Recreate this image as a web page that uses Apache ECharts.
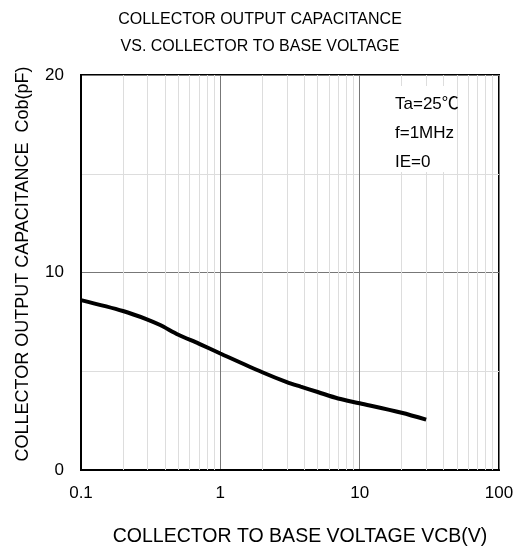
<!DOCTYPE html>
<html>
<head>
<meta charset="utf-8">
<script src="https://cdn.jsdelivr.net/npm/echarts@6/dist/echarts.min.js"></script>
<style>
  html, body { margin: 0; padding: 0; background: #fff; }
  #chart { width: 520px; height: 546px; }
</style>
</head>
<body>
<div id="chart"></div>
<script>
// 数据
var vcb = [0.1, 0.2, 0.3, 0.37, 0.5, 0.7, 1, 2, 3, 3.77, 5, 7, 10, 20, 30];
var cob = [8.6, 8.05, 7.62, 7.34, 6.85, 6.4, 5.9, 4.95, 4.45, 4.22, 3.95, 3.62, 3.38, 2.9, 2.55];
// 对数轴的次网格线
var minorX = [0.2, 0.3, 0.4, 0.5, 0.6, 0.7, 0.8, 0.9,
              2, 3, 4, 5, 6, 7, 8, 9,
              20, 30, 40, 50, 60, 70, 80, 90];
var noteLines = ['Ta=25℃', 'f=1MHz', 'IE=0'];

var myChart = echarts.init(document.getElementById('chart'));
var font = '"Liberation Sans", Arial, sans-serif';

var curve = [];
for (var i = 0; i < vcb.length; i++) curve.push([vcb[i], cob[i]]);

var option = {
    animation: false,
    title: {
        text: 'COLLECTOR OUTPUT CAPACITANCE\nVS. COLLECTOR TO BASE VOLTAGE',
        left: 'center',
        top: 1,
        textStyle: { fontFamily: font, fontSize: 16, fontWeight: 'normal', color: '#000', lineHeight: 27 }
    },
    graphic: [
        // 条件说明（白底）
        {
            type: 'rect',
            shape: { x: 385, y: 86, width: 68, height: 86 },
            style: { fill: '#fff' },
            z: 50
        },
        {
            type: 'text',
            x: 395,
            y: 90,
            z: 51,
            style: {
                text: noteLines.join('\n'),
                font: '17px "Liberation Sans", "Noto Sans CJK JP", sans-serif',
                lineHeight: 29,
                fill: '#000'
            }
        },
        // 坐标轴名称
        {
            type: 'text',
            x: 300,
            y: 537,
            style: {
                text: 'COLLECTOR TO BASE VOLTAGE VCB(V)',
                font: '19.5px ' + font,
                fill: '#000',
                align: 'center',
                verticalAlign: 'middle'
            }
        },
        {
            type: 'text',
            x: 23,
            y: 264,
            rotation: Math.PI / 2,
            style: {
                text: 'COLLECTOR OUTPUT CAPACITANCE  Cob(pF)',
                font: '18px ' + font,
                fill: '#000',
                align: 'center',
                verticalAlign: 'middle'
            }
        }
    ],
    grid: {
        left: 81, top: 75, width: 418, height: 395,
        outerBoundsMode: 'none',
        show: true, borderColor: '#000', borderWidth: 2
    },
    xAxis: {
        type: 'log',
        logBase: 10,
        min: 0.1,
        max: 100,
        axisLine: { show: true, lineStyle: { color: '#000', width: 2 } },
        axisTick: { show: false },
        axisLabel: {
            fontFamily: font, fontSize: 17, color: '#000', margin: 15,
            formatter: function (v) { return String(+v.toPrecision(3)); }
        },
        splitLine: { show: true, lineStyle: { color: '#777', width: 1 } }
    },
    yAxis: {
        type: 'value',
        min: 0,
        max: 20,
        interval: 10,
        axisLine: { show: true, lineStyle: { color: '#000', width: 2 } },
        axisTick: { show: false },
        axisLabel: { fontFamily: font, fontSize: 17, color: '#000', margin: 17 },
        splitLine: { show: true, lineStyle: { color: '#777', width: 1 } },
        minorTick: { show: false, splitNumber: 2 },
        minorSplitLine: { show: true, lineStyle: { color: '#ddd', width: 1 } }
    },
    series: [
        {
            // 次网格线
            type: 'line',
            data: [],
            silent: true,
            z: 1,
            markLine: {
                silent: true,
                symbol: 'none',
                animation: false,
                label: { show: false },
                lineStyle: { color: '#ddd', width: 1, type: 'solid' },
                data: minorX.map(function (v) { return { xAxis: v }; })
            }
        },
        {
            type: 'line',
            data: curve,
            smooth: 0.3,
            showSymbol: false,
            z: 5,
            lineStyle: { color: '#000', width: 4 }
        }
    ]
};
myChart.setOption(option);
</script>
</body>
</html>
